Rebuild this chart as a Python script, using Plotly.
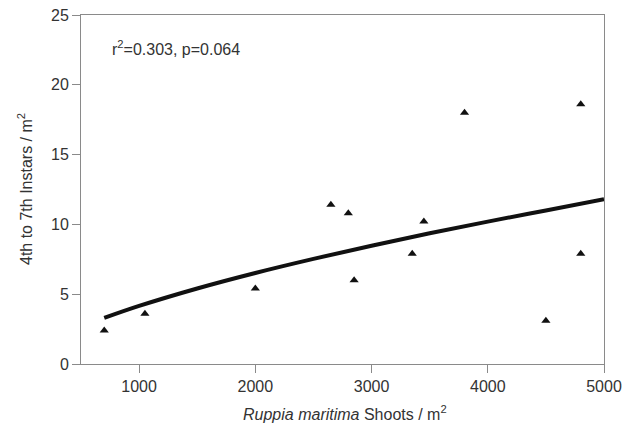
import plotly.graph_objects as go

shoots = [700, 1050, 2000, 2650, 2800, 2850, 3350, 3450, 3800, 4500, 4800, 4800]
instars = [2.4, 3.6, 5.4, 11.4, 10.8, 6.0, 7.9, 10.2, 18.0, 3.1, 18.6, 7.9]

# Fitted curve
fit_x = [700, 1000, 1500, 2000, 2500, 3000, 3500, 4000, 4500, 5000]
fit_y = [3.3, 4.16, 5.41, 6.52, 7.53, 8.47, 9.36, 10.2, 11.0, 11.8]

x_ticks = [1000, 2000, 3000, 4000, 5000]
y_ticks = [0, 5, 10, 15, 20, 25]

FONT = "Liberation Sans, Arial, sans-serif"
TXT = "#333333"

fig = go.Figure()
fig.add_trace(go.Scatter(
    x=fit_x, y=fit_y, mode="lines",
    line=dict(color="#111111", width=4, shape="spline"),
    showlegend=False, hoverinfo="skip"))
fig.add_trace(go.Scatter(
    x=shoots, y=instars, mode="markers",
    marker=dict(symbol="triangle-up", size=8, color="#111111"),
    showlegend=False))

axis_common = dict(
    showgrid=False, zeroline=False, showline=True, linecolor="#8a8a8a",
    linewidth=1, mirror=True, ticks="outside", ticklen=8, tickcolor="#8a8a8a",
    tickfont=dict(family=FONT, size=16, color=TXT), automargin=False,
)

fig.update_xaxes(range=[500, 5000], tickvals=x_ticks,
                 ticktext=[str(v) for v in x_ticks], **axis_common)
fig.update_yaxes(range=[0, 25], tickvals=y_ticks,
                 ticktext=[str(v) for v in y_ticks], **axis_common)

fig.add_annotation(x=0.055, y=0.905, xref="paper", yref="paper",
                   xanchor="left", yanchor="middle", showarrow=False,
                   text="r<sup>2</sup>=0.303, p=0.064",
                   font=dict(family=FONT, size=16, color=TXT))

# axis titles
fig.add_annotation(x=0.505, y=-0.14, xref="paper", yref="paper",
                   xanchor="center", yanchor="middle", showarrow=False,
                   text="<i>Ruppia maritima</i> Shoots / m<sup>2</sup>",
                   font=dict(family=FONT, size=16, color=TXT))
fig.add_annotation(x=-0.108, y=0.5, xref="paper", yref="paper",
                   xanchor="center", yanchor="middle", showarrow=False,
                   textangle=-90,
                   text="4th to 7th Instars / m<sup>2</sup>",
                   font=dict(family=FONT, size=16, color=TXT))

fig.update_layout(
    width=636, height=430,
    margin=dict(l=81, r=32, t=15, b=66),
    paper_bgcolor="white", plot_bgcolor="white",
)

fig.write_html("out.html", config={"displayModeBar": False},
               post_script="document.body.style.margin='0';")
